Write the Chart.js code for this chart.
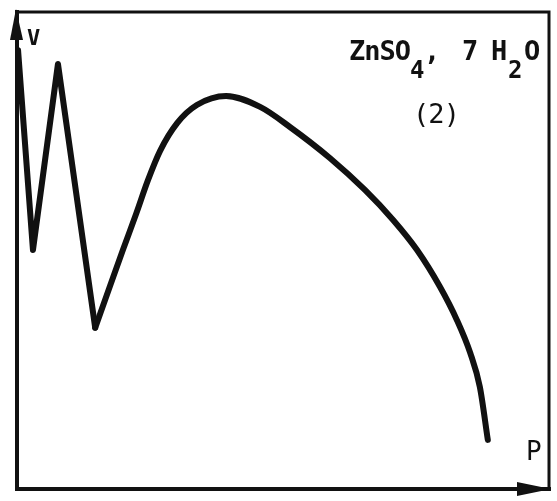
<!DOCTYPE html>
<html>
<head>
<meta charset="utf-8">
<script src="https://cdn.jsdelivr.net/npm/chart.js@4"></script>
<style>
html,body{margin:0;padding:0;background:#fff;}
#wrap{width:557px;height:501px;}
</style>
</head>
<body>
<div id="wrap"><canvas id="c" width="557" height="501"></canvas></div>
<script>
// Zig-zag (straight) part of the curve: P, V (arbitrary units 0-100)
const pZig = [0.2, 3.0, 7.7, 14.7];
const vZig = [92.0, 50.1, 89.1, 33.8];
// Smooth part of the curve
const pSmooth = [14.7, 17.5, 19.9, 22.4, 24.6, 26.9, 30.1, 33.8, 39.3, 45.7, 51.3, 58.8, 65.4, 70.7, 75.2, 79.5, 82.7, 85.2, 87.0, 88.5];
const vSmooth = [33.8, 42.6, 50.1, 57.7, 64.7, 70.9, 76.7, 80.5, 82.4, 80.1, 75.9, 69.4, 62.7, 56.4, 50.1, 42.4, 35.4, 28.5, 21.4, 10.3];
const axisLabels = {x: 'P', y: 'V'};
const titleSub = '(2)';

const toXY = (ps, vs) => ps.map((p, i) => ({x: p, y: vs[i]}));

const framePlugin = {
  id: 'frame',
  afterDraw(chart) {
    const {ctx, chartArea: a} = chart;
    ctx.save();
    ctx.strokeStyle = '#111';
    ctx.fillStyle = '#111';
    ctx.lineCap = 'square';
    // top and right edges
    ctx.lineWidth = 3;
    ctx.beginPath();
    ctx.moveTo(a.left, a.top);
    ctx.lineTo(a.right, a.top);
    ctx.lineTo(a.right, a.bottom);
    ctx.stroke();
    // left and bottom axes
    ctx.lineWidth = 4;
    ctx.beginPath();
    ctx.moveTo(a.left, a.top);
    ctx.lineTo(a.left, a.bottom);
    ctx.lineTo(a.right, a.bottom);
    ctx.stroke();
    // arrow on V axis
    ctx.beginPath();
    ctx.moveTo(a.left - 1, a.top - 3);
    ctx.lineTo(a.left - 7, a.top + 28);
    ctx.lineTo(a.left + 6, a.top + 28);
    ctx.closePath();
    ctx.fill();
    // arrow on P axis
    ctx.beginPath();
    ctx.moveTo(a.right + 2, a.bottom);
    ctx.lineTo(a.right - 32, a.bottom - 7);
    ctx.lineTo(a.right - 32, a.bottom + 7);
    ctx.closePath();
    ctx.fill();

    // axis labels
    ctx.textBaseline = 'alphabetic';
    ctx.font = 'bold 22px "DejaVu Sans Mono"';
    ctx.fillText(axisLabels.y, a.left + 10, a.top + 33);
    ctx.font = '26px "DejaVu Sans Mono"';
    ctx.fillText(axisLabels.x, a.right - 23, a.bottom - 29);

    // title with subscripts
    const base = 60;
    const big = 'bold 27px "DejaVu Sans Mono"';
    const small = 'bold 24px "DejaVu Sans Mono"';
    ctx.letterSpacing = '-1px';
    ctx.font = big;
    ctx.fillText('ZnSO', 349, base);
    ctx.font = small;
    ctx.fillText('4', 410, base + 18);
    ctx.font = big;
    ctx.fillText(',', 424, base);
    ctx.fillText('7', 462, base);
    ctx.fillText('H', 491, base);
    ctx.font = small;
    ctx.fillText('2', 508, base + 18);
    ctx.font = big;
    ctx.fillText('O', 524, base);
    ctx.font = '27px "DejaVu Sans Mono"';
    ctx.textAlign = 'center';
    ctx.fillText(titleSub, 436, 123);
    ctx.restore();
  }
};

new Chart(document.getElementById('c'), {
  type: 'line',
  data: {
    datasets: [
      {data: toXY(pZig, vZig), borderColor: '#111', borderWidth: 6, tension: 0, pointRadius: 0, borderJoinStyle: 'round', borderCapStyle: 'round', clip: false},
      {data: toXY(pSmooth, vSmooth), borderColor: '#111', borderWidth: 6, cubicInterpolationMode: 'monotone', pointRadius: 0, borderJoinStyle: 'round', borderCapStyle: 'round', clip: false}
    ]
  },
  options: {
    responsive: false,
    animation: false,
    layout: {padding: {left: 17, right: 8, top: 12, bottom: 12}},
    plugins: {legend: {display: false}, tooltip: {enabled: false}},
    scales: {
      x: {type: 'linear', min: 0, max: 100, display: false},
      y: {type: 'linear', min: 0, max: 100, display: false}
    }
  },
  plugins: [framePlugin]
});
</script>
</body>
</html>
